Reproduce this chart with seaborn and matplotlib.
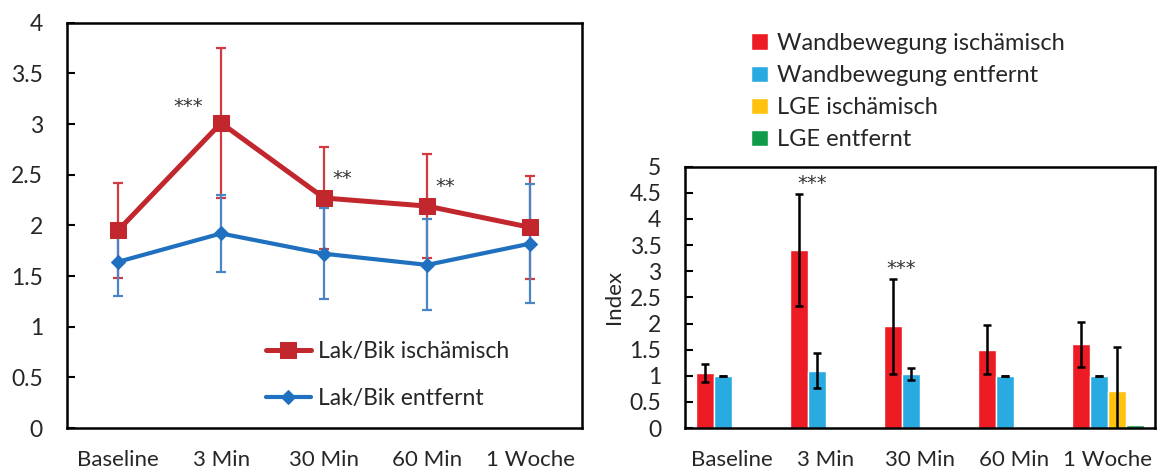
import numpy as np
import pandas as pd
import matplotlib
matplotlib.use("Agg")
import matplotlib.pyplot as plt
import seaborn as sns

# ---- data -------------------------------------------------------------
zeitpunkte = ["Baseline", "3 Min", "30 Min", "60 Min", "1 Woche"]

# Laktat/Bikarbonat-Quotient (Mittelwert, Standardabweichung)
lak_isch = [1.95, 3.01, 2.27, 2.19, 1.98]
lak_isch_sd = [0.47, 0.74, 0.50, 0.51, 0.51]
lak_entf = [1.64, 1.92, 1.72, 1.61, 1.82]
lak_entf_sd = [0.34, 0.38, 0.45, 0.45, 0.59]
lak_sig = ["", "***", "**", "**", ""]

# Wandbewegungs- und LGE-Index
wand_isch = [1.05, 3.40, 1.95, 1.50, 1.60]
wand_isch_sd = [0.17, 1.07, 0.91, 0.47, 0.43]
wand_entf = [1.00, 1.10, 1.03, 1.00, 1.00]
wand_entf_sd = [0.0, 0.33, 0.11, 0.0, 0.0]
lge_isch = [np.nan, np.nan, np.nan, np.nan, 0.71]
lge_isch_sd = [np.nan, np.nan, np.nan, np.nan, 0.84]
lge_entf = [np.nan, np.nan, np.nan, np.nan, 0.06]
lge_entf_sd = [np.nan, np.nan, np.nan, np.nan, np.nan]
index_sig = ["", "***", "***", "", ""]

serien_lak = ["Lak/Bik ischämisch", "Lak/Bik entfernt"]
serien_index = ["Wandbewegung ischämisch", "Wandbewegung entfernt",
                "LGE ischämisch", "LGE entfernt"]

# ---- style ------------------------------------------------------------
sns.set_style("white")
plt.rcParams["font.family"] = ["Lato", "DejaVu Sans"]
plt.rcParams["text.color"] = "#262626"
plt.rcParams["xtick.color"] = "black"
plt.rcParams["ytick.color"] = "black"
plt.rcParams["xtick.labelcolor"] = "#262626"
plt.rcParams["ytick.labelcolor"] = "#262626"

FS = 16
FS_LEG = 16.5
STERN = dict(family=["DejaVu Sans"], fontsize=14, color="#333333")
rot, blau = "#C1272D", "#1F70BF"
rot_err, blau_err = "#D33A40", "#4A86C6"
bar_farben = ["#ED1C24", "#29ABE2", "#FFC20E", "#109C49"]

fig = plt.figure(figsize=(11.63, 4.75), dpi=100)
ax1 = fig.add_axes([0.0572, 0.0989, 0.4430, 0.8533])
ax2 = fig.add_axes([0.5890, 0.0989, 0.4041, 0.5501])

# ---- left: line chart -------------------------------------------------
pos = np.arange(len(zeitpunkte))
ax1.errorbar(pos, lak_isch, yerr=lak_isch_sd, fmt="none", ecolor=rot_err,
             elinewidth=1.6, capsize=3.6, capthick=1.6, zorder=2)
ax1.errorbar(pos, lak_entf, yerr=lak_entf_sd, fmt="none", ecolor=blau_err,
             elinewidth=1.6, capsize=3.6, capthick=1.6, zorder=2)
sns.lineplot(x=pos, y=lak_entf, color=blau, marker="D", markersize=7,
             markeredgecolor=blau, linewidth=3.0, ax=ax1, zorder=3,
             label=serien_lak[1])
sns.lineplot(x=pos, y=lak_isch, color=rot, marker="s", markersize=11.5,
             markeredgecolor=rot, linewidth=3.6, ax=ax1, zorder=4,
             label=serien_lak[0])

for i, s in enumerate(lak_sig):
    if s:
        if i == 1:
            x, y, ha = i - 0.32, lak_isch[i] + lak_isch_sd[i] * 0.22, "center"
        else:
            x, y, ha = i + 0.08, lak_isch[i] + 0.19, "left"
        ax1.text(x, y, s, ha=ha, va="center", **STERN)

ax1.set_xlim(-0.5, len(zeitpunkte) - 0.5)
ax1.set_ylim(0, 4)
ax1.set_xticks(pos)
ax1.set_xticklabels(zeitpunkte)
yt = np.arange(0, 4.01, 0.5)
ax1.set_yticks(yt)
ax1.set_yticklabels([f"{v:g}" for v in yt])
ax1.set_xlabel("")
ax1.set_ylabel("")

h, l = ax1.get_legend_handles_labels()
order = [l.index(serien_lak[0]), l.index(serien_lak[1])]
ax1.legend([h[k] for k in order], [l[k] for k in order],
           loc="upper left", bbox_to_anchor=(266 / 1163, 1 - 341 / 475),
           bbox_transform=fig.transFigure, frameon=False, fontsize=FS_LEG,
           handlelength=1.95, handletextpad=0.3, labelspacing=1.15,
           borderpad=0, borderaxespad=0)

# ---- right: grouped bar chart ----------------------------------------
werte = [wand_isch, wand_entf, lge_isch, lge_entf]
fehler = [wand_isch_sd, wand_entf_sd, lge_isch_sd, lge_entf_sd]
df = pd.DataFrame({
    "Zeitpunkt": np.tile(zeitpunkte, len(serien_index)),
    "Messung": np.repeat(serien_index, len(zeitpunkte)),
    "Index": np.concatenate(werte),
    "SD": np.concatenate(fehler),
})
sns.barplot(data=df, x="Zeitpunkt", y="Index", hue="Messung",
            order=zeitpunkte, hue_order=serien_index,
            palette=bar_farben, width=0.77, saturation=1,
            errorbar=None, ax=ax2)

for cont, serie in zip(ax2.containers, serien_index):
    sd = fehler[serien_index.index(serie)]
    for bar in cont:
        hgt = bar.get_height()
        if not np.isfinite(hgt):
            continue
        xc = bar.get_x() + bar.get_width() / 2
        k = int(round(xc))
        if not np.isfinite(sd[k]):
            continue
        ax2.errorbar(xc, hgt, yerr=sd[k], fmt="none", ecolor="black",
                     elinewidth=1.8, capsize=3.2, capthick=1.8, zorder=5)

for i, s in enumerate(index_sig):
    if s:
        ax2.text(i - 0.15 - (0.05 if i == 2 else 0),
                 wand_isch[i] + wand_isch_sd[i] + 0.2,
                 s, ha="center", va="center", **STERN)

ax2.set_xlim(-0.5, len(zeitpunkte) - 0.5)
ax2.set_ylim(0, 5)
yt2 = np.arange(0, 5.01, 0.5)
ax2.set_yticks(yt2)
ax2.set_yticklabels([f"{v:g}" for v in yt2])
ax2.set_xlabel("")
ax2.set_ylabel("Index", fontsize=FS, labelpad=4)

h2, l2 = ax2.get_legend_handles_labels()
ax2.get_legend().remove()
fig.legend(h2, l2, loc="upper left", bbox_to_anchor=(751 / 1163, 1 - 33 / 475),
           frameon=False, fontsize=FS_LEG + 0.5, handlelength=0.7,
           handleheight=0.7, handletextpad=0.4, labelspacing=0.47,
           borderpad=0, borderaxespad=0)

# ---- shared axis styling ---------------------------------------------
for ax in (ax1, ax2):
    for sp in ax.spines.values():
        sp.set_visible(True)
        sp.set_color("black")
        sp.set_linewidth(1.8)
    ax.tick_params(axis="y", direction="in", length=6, width=1.5,
                   pad=17, labelsize=FS + 0.5, left=True)
    ax.tick_params(axis="x", length=0, pad=16, labelsize=FS)

fig.savefig("out.png", dpi=100)
